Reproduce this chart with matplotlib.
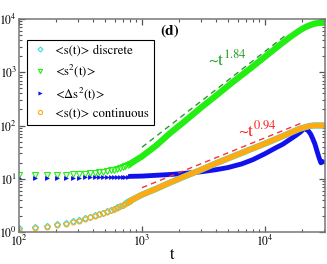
import numpy as np
import matplotlib
matplotlib.use('Agg')
import matplotlib.pyplot as plt
from matplotlib.ticker import LogLocator, NullFormatter

plt.rcParams['font.family'] = 'STIXGeneral'
plt.rcParams['mathtext.fontset'] = 'stix'

# sampling times: sparse early markers, then the dense part drawn as a band
t_early = [100, 135, 170, 205, 240, 275, 310, 345, 380, 415, 450, 485, 520, 555, 590,
           625, 660, 695, 730, 765, 800]
t_late = [800, 1000, 1300, 1700, 2200, 3000, 4000, 5500, 7500, 10000,
          13000, 16000, 19000, 21000, 23000, 25000, 27000, 29000, 31000]

# log10 of the values
disc_early = [0.07, 0.10, 0.12, 0.145, 0.17, 0.20, 0.225, 0.26, 0.285, 0.31, 0.34, 0.365, 0.39,
              0.415, 0.44, 0.465, 0.49, 0.515, 0.54, 0.565, 0.59]
cont_early = [0.04, 0.08, 0.10, 0.13, 0.155, 0.19, 0.215, 0.25, 0.275, 0.30, 0.33, 0.355, 0.38,
              0.41, 0.435, 0.46, 0.485, 0.51, 0.535, 0.56, 0.585]
cont_late = [0.585, 0.70, 0.81, 0.93, 1.04, 1.165, 1.29, 1.42, 1.545, 1.66,
             1.77, 1.86, 1.935, 1.965, 1.99, 2.0, 2.0, 2.0, 2.0]
disc_late = cont_late
s2_early = [1.07, 1.07, 1.07, 1.075, 1.075, 1.08, 1.085, 1.09, 1.10, 1.11, 1.12, 1.135, 1.15,
            1.16, 1.17, 1.185, 1.20, 1.22, 1.235, 1.255, 1.28]
s2_late = [1.28, 1.42, 1.62, 1.86, 2.07, 2.33, 2.56, 2.82, 3.06, 3.29,
           3.50, 3.66, 3.78, 3.84, 3.88, 3.91, 3.925, 3.93, 3.93]
ds2_early = [1.02, 1.02, 1.02, 1.02, 1.02, 1.02, 1.02, 1.025, 1.025, 1.025, 1.03, 1.03, 1.03,
             1.035, 1.035, 1.035, 1.04, 1.04, 1.04, 1.04, 1.045]
t_ds2 = [800, 1000, 1700, 2200, 3000, 4000, 5000, 6500, 8000, 10000, 12000, 14000, 16000,
         18000, 19500, 20500, 21500, 22500, 23500, 24500, 25500, 26500, 27500, 28500, 29500]
ds2_late = [1.045, 1.05, 1.08, 1.10, 1.13, 1.17, 1.21, 1.28, 1.36, 1.47, 1.57, 1.65, 1.74,
            1.82, 1.88, 1.93, 1.94, 1.90, 1.84, 1.75, 1.65, 1.52, 1.40, 1.30, 1.32]

# guide lines ~t^1.84 and ~t^0.94
guide1_t = [1000, 15000]
guide1_y = [39, 5100]
guide2_t = [1000, 20000]
guide2_y = [6.8, 112]

c_disc = '#33dddd'
c_s2 = '#22ee11'
c_ds2 = '#1111ee'
c_cont = '#ffaa11'

def p(v):
    return 10 ** np.array(v)

fig = plt.figure(figsize=(3.27, 2.64), dpi=100)
ax = fig.add_axes([0.058, 0.1212, 0.936, 0.8068])

ax.plot(t_late, p(s2_late), '-', color=c_s2, lw=4.5, solid_capstyle='round')
ax.plot(t_early, p(s2_early), 'v', color=c_s2, mfc='none', ms=4, mew=0.8)
ax.plot(t_ds2, p(ds2_late), '-', color=c_ds2, lw=3.5, solid_capstyle='round')
ax.plot(t_early, p(ds2_early), '>', color=c_ds2, ms=3.5, mew=0)
ax.plot(t_late, p(disc_late), '-', color=c_disc, lw=4.5)
ax.plot(t_early, p(disc_early), 'D', color=c_disc, mfc='none', ms=3.2, mew=0.8)
ax.plot(t_late, p(cont_late), '-', color=c_cont, lw=4.0, solid_capstyle='round')
ax.plot(t_early, p(cont_early), 'o', color=c_cont, mfc='none', ms=3.5, mew=0.8)

ax.plot(guide1_t, guide1_y, '--', color='#2a9a2a', lw=1.0, dashes=(4, 3))
ax.plot(guide2_t, guide2_y, '--', color='#ff3030', lw=1.0, dashes=(4, 3))

ax.set_xscale('log')
ax.set_yscale('log')
ax.set_xlim(100, 3.08e4)
ax.set_ylim(1, 1e4)

ax.xaxis.set_major_locator(LogLocator(base=10, numticks=10))
ax.xaxis.set_minor_locator(LogLocator(base=10, subs=np.arange(2, 10), numticks=20))
ax.yaxis.set_minor_locator(LogLocator(base=10, subs=np.arange(2, 10), numticks=20))
ax.xaxis.set_minor_formatter(NullFormatter())
ax.yaxis.set_minor_formatter(NullFormatter())
ax.tick_params(which='both', direction='in', top=True, right=True, color='#555555')
ax.tick_params(which='major', length=4.5, width=0.9, labelsize=8.5, pad=1.2)
ax.tick_params(which='minor', length=2.3, width=0.8)
for s in ax.spines.values():
    s.set_color('#777777')
    s.set_linewidth(1.1)

ax.set_xlabel('t', fontsize=12, labelpad=-1)

ax.text(0.462, 0.975, '(d)', transform=ax.transAxes, fontsize=11, fontweight='bold', va='top')
ax.text(3450, 1350, r'~t$^{1.84}$', color='#22a022', fontsize=13, va='baseline')
ax.text(6000, 63, r'~t$^{0.94}$', color='#ff2020', fontsize=13, va='baseline')

h1, = ax.plot([], [], 'D', color=c_disc, mfc='none', ms=2.5, mew=0.8, label='<s(t)> discrete')
h2, = ax.plot([], [], 'v', color=c_s2, mfc='none', ms=3, mew=0.8, label='<s$^2$(t)>')
h3, = ax.plot([], [], '>', color=c_ds2, ms=3, mew=0, label=r'<$\Delta$s$^2$(t)>')
h4, = ax.plot([], [], 'o', color=c_cont, mfc='none', ms=3, mew=0.8, label='<s(t)> continuous')
leg = ax.legend(handles=[h1, h2, h3, h4], loc='upper left', bbox_to_anchor=(0.026, 0.902),
                fontsize=9.2, frameon=True, fancybox=False, edgecolor='black',
                framealpha=1, borderaxespad=0, borderpad=0.4, labelspacing=0.45,
                handlelength=1.2, handletextpad=0.6)
leg.get_frame().set_linewidth(0.8)

fig.savefig('out.png', dpi=100)
